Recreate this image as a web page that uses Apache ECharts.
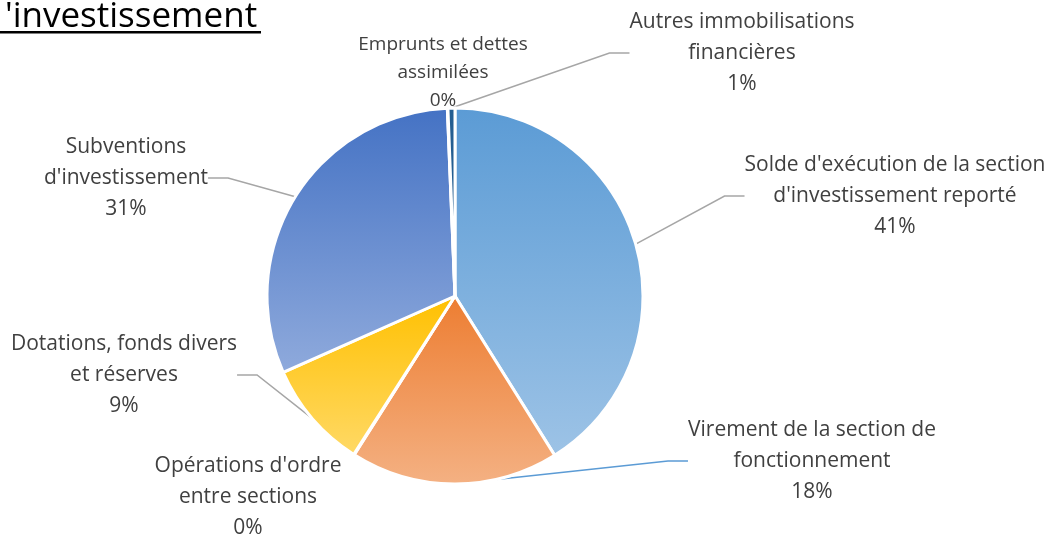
<!DOCTYPE html>
<html>
<head>
<meta charset="utf-8">
<script src="https://cdn.jsdelivr.net/npm/echarts@6/dist/echarts.min.js"></script>
<style>
html,body{margin:0;padding:0;background:#fff;}
#c{width:1049px;height:535px;}
</style>
</head>
<body>
<div id="c"></div>
<script>
const titleText = "'investissement";
const categories = [
  "Solde d'exécution de la section\nd'investissement reporté",
  "Virement de la section de\nfonctionnement",
  "Opérations d'ordre\nentre sections",
  "Dotations, fonds divers\net réserves",
  "Subventions\nd'investissement",
  "Emprunts et dettes\nassimilées",
  "Autres immobilisations\nfinancières"
];
const values = [41.1, 17.9, 0.05, 9.3, 31.0, 0.05, 0.6];

const gradients = [
  ['#5B9BD5', '#9DC3E6'],
  ['#ED7D31', '#F4B183'],
  ['#A5A5A5', '#C9C9C9'],
  ['#FFC000', '#FFD966'],
  ['#4472C4', '#8FAADC'],
  ['#70AD47', '#A9D18E'],
  ['#255E91', '#255E91']
];
// label block centres
const labelPos = [
  [895, 196], [812, 461], [248, 497], [124, 375], [126, 178], [443, 73], [742, 53]
];
const labelFont = [21, 21, 21, 21, 21, 19, 21];
const labelLH = [31, 31, 31, 31, 31, 28, 31];
const lineColors = ['#A6A6A6', '#5B9BD5', '#A6A6A6', '#A6A6A6', '#A6A6A6', '#A6A6A6', '#A6A6A6'];
const showLine = [true, true, false, true, true, false, true];

const chart = echarts.init(document.getElementById('c'), null, {renderer: 'canvas'});
const data = categories.map((n, i) => ({
  name: n,
  value: values[i],
  itemStyle: {
    color: new echarts.graphic.LinearGradient(0, 0, 0, 1, [
      {offset: 0, color: gradients[i][0]},
      {offset: 1, color: gradients[i][1]}
    ])
  },
  label: {fontSize: labelFont[i], lineHeight: labelLH[i]},
  labelLine: {show: showLine[i], lineStyle: {color: lineColors[i], width: 1.5}}
}));

chart.setOption({
  animation: false,
  title: {
    text: titleText,
    left: 0,
    top: -5,
    textStyle: {fontFamily: 'Open Sans', fontSize: 35, fontWeight: 'normal', color: '#000'}
  },
  graphic: [{
    type: 'rect',
    shape: {x: 0, y: 31, width: 261, height: 2.5},
    style: {fill: '#000'}
  }],
  series: [{
    type: 'pie',
    center: [455, 296],
    radius: [0, 188],
    startAngle: 90,
    clockwise: true,
    data: data,
    itemStyle: {borderColor: '#fff', borderWidth: 3},
    label: {
      show: true,
      position: 'outside',
      fontFamily: 'Open Sans',
      fontSize: 21,
      lineHeight: 31,
      color: '#404040',
      align: 'center',
      overflow: 'none',
      formatter: p => p.name + '\n' + Math.round(p.percent) + '%'
    },
    labelLine: {show: true, length: 20, length2: 20},
    labelLayout: function (p) {
      const pos = labelPos[p.dataIndex];
      return {x: pos[0], y: pos[1], align: 'center', verticalAlign: 'middle', hideOverlap: false, moveOverlap: false};
    }
  }]
});
</script>
</body>
</html>
